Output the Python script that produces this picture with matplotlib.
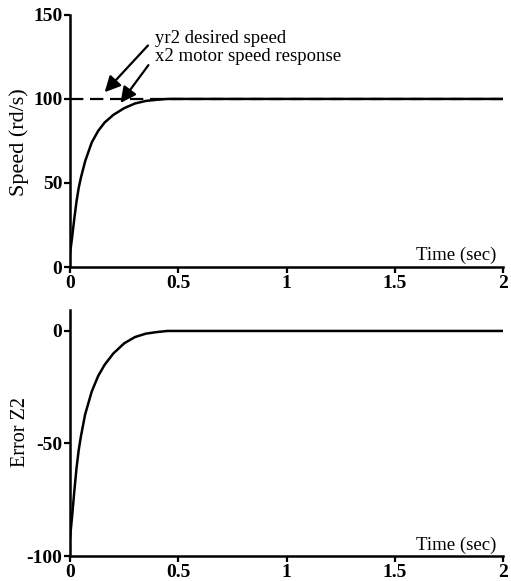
import numpy as np
import matplotlib.pyplot as plt

plt.rcParams['font.family'] = ['Liberation Serif', 'DejaVu Serif']
plt.rcParams['font.size'] = 13.5
plt.rcParams['axes.unicode_minus'] = False

# Data
t = [0, 0.01, 0.02, 0.03, 0.04, 0.05, 0.07, 0.1, 0.13, 0.16, 0.2, 0.25, 0.3, 0.35, 0.4, 0.45, 0.5, 1.0, 1.5, 2.0]
x2_speed = [8, 18, 29, 39, 47, 53, 63, 74, 81, 86, 90.5, 94.5, 97.3, 98.8, 99.5, 100, 100, 100, 100, 100]
yr2_desired = [100, 100, 100, 100, 100, 100, 100, 100, 100, 100, 100, 100, 100, 100, 100, 100, 100, 100, 100, 100]
z2_error = [-92, -82, -71, -61, -53, -47, -37, -27, -20, -15, -10, -5.5, -2.7, -1.2, -0.5, 0, 0, 0, 0, 0]

xticks = [0, 0.5, 1, 1.5, 2]
xticklabels = ['0', '0.5', '1', '1.5', '2']

fig = plt.figure(figsize=(5.11, 5.81), dpi=100)
ax1 = fig.add_axes([0.137, 0.5404, 0.848, 0.434])
ax2 = fig.add_axes([0.137, 0.043, 0.848, 0.4234])

for ax in (ax1, ax2):
    for s in ('top', 'right'):
        ax.spines[s].set_visible(False)
    for s in ('left', 'bottom'):
        ax.spines[s].set_linewidth(1.8)
    ax.tick_params(direction='out', length=4, width=1.6, pad=1.5, labelsize=14)
    ax.set_xlim(0, 2)
    ax.set_xticks(xticks)
    ax.set_xticklabels(xticklabels)
    for lab in ax.get_xticklabels() + ax.get_yticklabels():
        lab.set_fontweight('bold')

# Top: speed
ax1.plot(t, yr2_desired, color='black', lw=1.6, ls=(0, (6, 3)))
ax1.plot(t, x2_speed, color='black', lw=1.8)
ax1.set_ylim(0, 150)
ax1.set_yticks([0, 50, 100, 150])
fig.text(0.038, 0.755, 'Speed (rd/s)', rotation=90, ha='center', va='center', fontsize=16)
ax1.text(1.97, 2, 'Time (sec)', ha='right', va='bottom')
ax1.annotate('yr2 desired speed', xy=(0.16, 104), xytext=(0.39, 136),
             va='center', ha='left',
             arrowprops=dict(arrowstyle='-|>,head_length=0.7,head_width=0.35', color='black',
                             lw=1.6, shrinkA=4, shrinkB=0, relpos=(0, 0.5)))
ax1.annotate('x2 motor speed response', xy=(0.233, 97.6), xytext=(0.39, 125),
             va='center', ha='left',
             arrowprops=dict(arrowstyle='-|>,head_length=0.7,head_width=0.35', color='black',
                             lw=1.6, shrinkA=4, shrinkB=0, relpos=(0, 0.5)))

# Bottom: error
ax2.plot(t, z2_error, color='black', lw=1.8)
ax2.set_ylim(-100, 9.3)
ax2.set_yticks([0, -50, -100])
fig.text(0.041, 0.256, 'Error Z2', rotation=90, ha='center', va='center', fontsize=14.5)
ax2.text(1.97, -99, 'Time (sec)', ha='right', va='bottom')

fig.savefig('out.png', dpi=100)
